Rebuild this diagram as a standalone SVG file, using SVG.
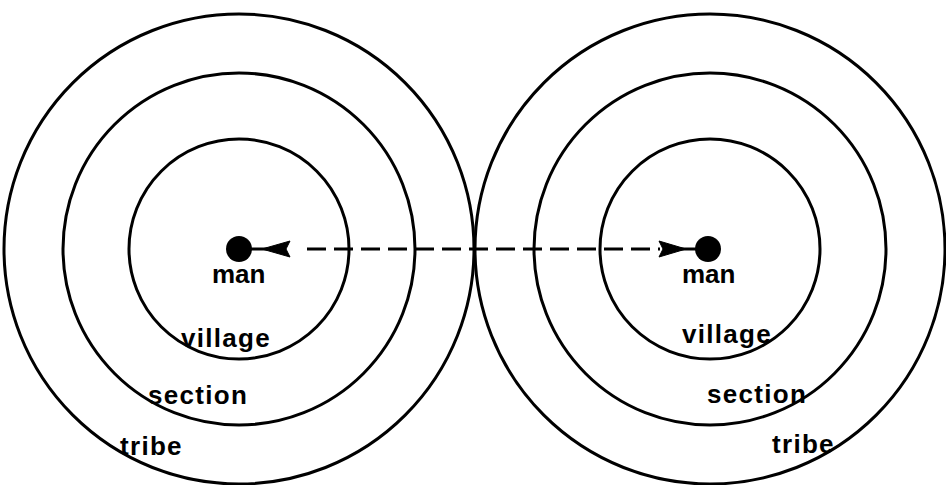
<svg xmlns="http://www.w3.org/2000/svg" width="946" height="485" viewBox="0 0 946 485">
<style>
.ring{fill:none;stroke:#000;stroke-width:3}
.dot{fill:#000}
.lbl{font-family:"Liberation Sans",Arial,sans-serif;font-weight:bold;font-size:26px;fill:#000;letter-spacing:1.3px}
.man{letter-spacing:0}
.dash{fill:none;stroke:#000;stroke-width:3;stroke-dasharray:19 8}
.solid{fill:none;stroke:#000;stroke-width:3}
.head{fill:#000;stroke:#000;stroke-width:1;stroke-linejoin:miter}
</style>
<rect width="946" height="485" fill="#fff"/>
<g id="left-tribe"><circle class="ring" cx="239" cy="249" r="235"/><text class="lbl" x="120" y="455">tribe</text></g>
<g id="left-section"><circle class="ring" cx="239" cy="249" r="176"/><text class="lbl" x="148" y="404">section</text></g>
<g id="left-village"><circle class="ring" cx="239" cy="249" r="110"/><text class="lbl" x="181" y="347">village</text></g>
<g id="left-man"><circle class="dot" cx="239" cy="249" r="13"/><text class="lbl man" x="212" y="283">man</text></g>
<g id="right-tribe"><circle class="ring" cx="710" cy="249" r="235"/><text class="lbl" x="772" y="453">tribe</text></g>
<g id="right-section"><circle class="ring" cx="710" cy="249" r="176"/><text class="lbl" x="707" y="403">section</text></g>
<g id="right-village"><circle class="ring" cx="710" cy="249" r="110"/><text class="lbl" x="682" y="343">village</text></g>
<g id="right-man"><circle class="dot" cx="708" cy="249" r="13"/><text class="lbl man" x="682" y="283">man</text></g>
<g id="connectors">
<path class="solid" d="M250 249H268"/>
<polygon class="head" points="262,249 290,241 286,249 290,257"/>
<path class="dash" d="M307 249H660"/>
<polygon class="head" points="686,249 659,241 663,249 659,257"/>
<path class="solid" d="M680 249H697"/>
</g>
</svg>
